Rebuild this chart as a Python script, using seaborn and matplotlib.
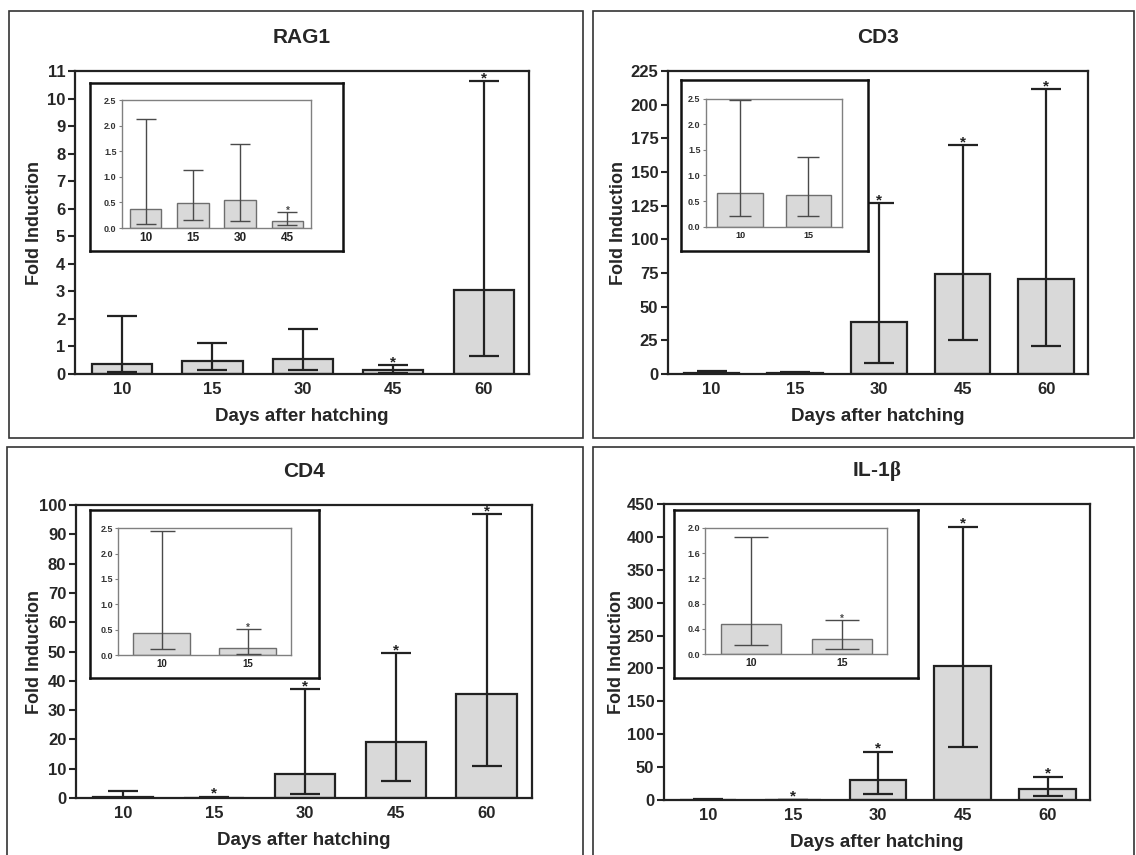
import numpy as np
import pandas as pd
import matplotlib
matplotlib.use("Agg")
import matplotlib.pyplot as plt
import seaborn as sns
from matplotlib.patches import Rectangle

# ---- data ----
days = ["10", "15", "30", "45", "60"]

rag1_mean = [0.38, 0.48, 0.55, 0.14, 3.05]
rag1_low = [0.08, 0.15, 0.14, 0.05, 0.65]
rag1_high = [2.12, 1.14, 1.65, 0.31, 10.62]
rag1_star = [False, False, False, True, True]

cd3_mean = [0.65, 0.61, 38.6, 74.5, 70.8]
cd3_low = [0.20, 0.21, 7.9, 25.0, 20.5]
cd3_high = [2.48, 1.37, 126.7, 169.8, 211.6]
cd3_star = [False, False, True, True, True]

cd4_mean = [0.44, 0.13, 8.2, 19.1, 35.6]
cd4_low = [0.11, 0.02, 1.4, 5.7, 10.8]
cd4_high = [2.45, 0.51, 37.2, 49.5, 97.0]
cd4_star = [False, True, True, True, True]

il1b_mean = [0.48, 0.24, 30.4, 203.7, 16.2]
il1b_low = [0.15, 0.09, 8.6, 80.0, 6.6]
il1b_high = [1.86, 0.54, 73.5, 415.6, 35.5]
il1b_star = [False, True, True, True, True]

titles = {"RAG1": "RAG1", "CD3": "CD3", "CD4": "CD4", "IL-1β": r"IL-1$\mathrm{\beta}$"}

# how many days each inset zooms in on, and the axis ranges
inset_n = {"RAG1": 4, "CD3": 2, "CD4": 2, "IL-1β": 2}
main_yticks = {"RAG1": np.arange(0, 12, 1), "CD3": np.arange(0, 250, 25),
               "CD4": np.arange(0, 110, 10), "IL-1β": np.arange(0, 500, 50)}
inset_yticks = {"RAG1": np.arange(0, 3.0, 0.5), "CD3": np.arange(0, 3.0, 0.5),
                "CD4": np.arange(0, 3.0, 0.5), "IL-1β": np.arange(0, 2.4, 0.4)}

# ---- layout in pixels of the 1136x855 picture (x0, y0, x1, y1) ----
W, H = 1136, 855
layout = {
    "RAG1": dict(main=(75, 71, 529, 374), box=(90, 83, 343, 251),
                 inner=(122, 100, 311, 228), frame=(9, 10.7, 582.6, 438),
                 ylab_x=43, xtick_in=8.5, cap_in=7),
    "CD3": dict(main=(668, 71, 1088, 374), box=(681, 80.3, 867.7, 251),
                inner=(706, 98.7, 842.3, 226.7), frame=(593.4, 10.7, 1134, 438),
                ylab_x=627, xtick_in=6.5, cap_in=8),
    "CD4": dict(main=(76, 505, 532, 798), box=(90, 510.3, 319, 677.7),
                inner=(118.4, 528.3, 290.8, 655), frame=(7.4, 446.7, 582.6, 870),
                ylab_x=43, xtick_in=7, cap_in=9),
    "IL-1β": dict(main=(664, 504, 1090, 800), box=(674.1, 510.3, 918.3, 677.7),
                  inner=(705.4, 527.7, 887.4, 654.3), frame=(593.4, 446.7, 1134, 870),
                  ylab_x=625, xtick_in=7.5, cap_in=12.5),
}


def rect(x0, y0, x1, y1):
    return [x0 / W, 1 - y1 / H, (x1 - x0) / W, (y1 - y0) / H]


sns.set_style("ticks")
plt.rcParams['font.family'] = ['Liberation Sans', 'DejaVu Sans']
plt.rcParams['font.weight'] = 'bold'
plt.rcParams['mathtext.fontset'] = 'custom'
plt.rcParams['mathtext.rm'] = 'Liberation Serif'

BAR = "#d9d9d9"


def draw_bars(ax, d, m, lo, hi, st, edge, lw, ecolor, elw, cap, star_size, star_off):
    df = pd.DataFrame({"day": d, "fold": m})
    sns.barplot(data=df, x="day", y="fold", order=d, ax=ax, color=BAR, saturation=1,
                width=0.665, edgecolor=edge, linewidth=lw, errorbar=None, zorder=2)
    x = np.arange(len(d))
    m = np.array(m)
    ax.errorbar(x, m, yerr=[m - np.array(lo), np.array(hi) - m], fmt="none",
                ecolor=ecolor, elinewidth=elw, capsize=cap, capthick=elw, zorder=3)
    for xi, h, s in zip(x, hi, st):
        if s:
            ax.annotate("*", (xi, h), xytext=(0, star_off), textcoords="offset points",
                        ha="center", va="center", fontsize=star_size, color=ecolor)


fig = plt.figure(figsize=(W / 100, H / 100), dpi=100)

genes = {
    "RAG1": (rag1_mean, rag1_low, rag1_high, rag1_star),
    "CD3": (cd3_mean, cd3_low, cd3_high, cd3_star),
    "CD4": (cd4_mean, cd4_low, cd4_high, cd4_star),
    "IL-1β": (il1b_mean, il1b_low, il1b_high, il1b_star),
}

for gene, (m, lo, hi, st) in genes.items():
    lay = layout[gene]

    # outer panel frame
    fx0, fy0, fx1, fy1 = lay["frame"]
    fig.patches.append(Rectangle((fx0 / W, 1 - fy1 / H), (fx1 - fx0) / W, (fy1 - fy0) / H,
                                 transform=fig.transFigure, fill=False,
                                 edgecolor="#333333", linewidth=1.2))

    # main axes
    ax = fig.add_axes(rect(*lay["main"]))
    draw_bars(ax, days, m, lo, hi, st, edge="#222222", lw=1.6, ecolor="#222222",
              elw=1.6, cap=11, star_size=11, star_off=2)
    yt = main_yticks[gene]
    ax.set_ylim(0, yt[-1])
    ax.set_yticks(yt)
    ax.set_xlim(-0.52, len(days) - 0.5)
    for sp in ax.spines.values():
        sp.set_linewidth(1.6)
        sp.set_color("#222222")
    ax.tick_params(axis="y", direction="out", length=5, width=1.5, labelsize=12, pad=2)
    ax.tick_params(axis="x", length=0, labelsize=12, pad=6)
    ax.set_xlabel("Days after hatching", fontsize=13.5, fontweight="bold", labelpad=8)
    ax.set_ylabel("Fold Induction", fontsize=13, fontweight="bold")
    y0, y1 = lay["main"][1], lay["main"][3]
    ax.yaxis.set_label_coords(lay["ylab_x"] / W, 1 - (y0 + y1) / 2 / H,
                              transform=fig.transFigure)
    ax.set_title(titles[gene], fontsize=15, fontweight="bold", pad=20)

    # inset: framed box with a small chart of the early days
    box = fig.add_axes(rect(*lay["box"]), zorder=3)
    box.set_xticks([])
    box.set_yticks([])
    box.set_facecolor("white")
    for sp in box.spines.values():
        sp.set_linewidth(1.8)
        sp.set_color("#111111")

    n = inset_n[gene]
    ins = fig.add_axes(rect(*lay["inner"]), zorder=4)
    ins.set_facecolor("white")
    draw_bars(ins, days[:n], m[:n], lo[:n], hi[:n], st[:n], edge="#6e6e6e", lw=1.0,
              ecolor="#4a4a4a", elw=1.0, cap=lay["cap_in"], star_size=7, star_off=1)
    yti = inset_yticks[gene]
    ins.set_ylim(0, yti[-1])
    ins.set_yticks(yti)
    ins.set_yticklabels([f"{v:.1f}" for v in yti])
    ins.set_xlim(-0.5, n - 0.5)
    for sp in ins.spines.values():
        sp.set_linewidth(1.0)
        sp.set_color("#808080")
    ins.tick_params(axis="y", direction="out", length=2.5, width=0.8, color="#808080",
                    labelsize=6.5, labelcolor="#333333", pad=1.5)
    ins.tick_params(axis="x", length=0, labelsize=lay["xtick_in"], labelcolor="#222222", pad=3)
    ins.set_xlabel("")
    ins.set_ylabel("")

fig.savefig("out.png", dpi=100)
